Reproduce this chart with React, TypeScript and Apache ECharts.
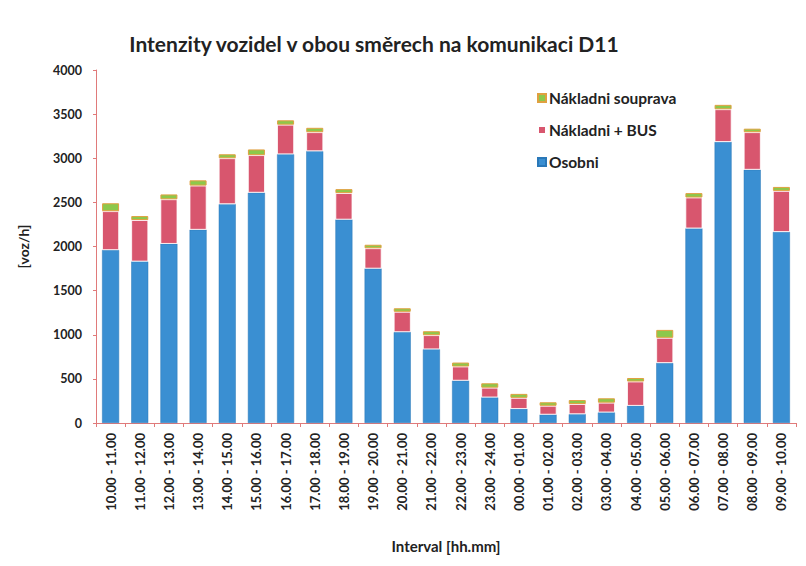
import React, { useEffect, useRef } from "react";
import * as echarts from "echarts";

const categories = [
  "10.00 - 11.00", "11.00 - 12.00", "12.00 - 13.00", "13.00 - 14.00", "14.00 - 15.00",
  "15.00 - 16.00", "16.00 - 17.00", "17.00 - 18.00", "18.00 - 19.00", "19.00 - 20.00",
  "20.00 - 21.00", "21.00 - 22.00", "22.00 - 23.00", "23.00 - 24.00", "00.00 - 01.00",
  "01.00 - 02.00", "02.00 - 03.00", "03.00 - 04.00", "04.00 - 05.00", "05.00 - 06.00",
  "06.00 - 07.00", "07.00 - 08.00", "08.00 - 09.00", "09.00 - 10.00",
];

const osobni = [1960, 1830, 2030, 2190, 2480, 2610, 3045, 3080, 2305, 1750, 1030, 835, 480, 290, 160, 95, 100, 120, 195, 680, 2205, 3185, 2870, 2165];
const nakladniBus = [440, 470, 505, 500, 520, 425, 335, 215, 300, 230, 230, 160, 160, 110, 125, 100, 115, 110, 275, 285, 350, 370, 425, 465];
const souprava = [90, 45, 55, 60, 45, 65, 50, 50, 45, 40, 40, 45, 45, 50, 45, 40, 45, 50, 40, 90, 50, 50, 40, 45];

const yTicks = [0, 500, 1000, 1500, 2000, 2500, 3000, 3500, 4000];

const FONT = "Lato";

export default function App() {
  const ref = useRef<HTMLDivElement>(null);
  useEffect(() => {
    if (!ref.current) return;
    const chart = echarts.init(ref.current, undefined, { renderer: "svg" });
    const axisColor = "#e07a7a";
    chart.setOption({
      animation: false,
      backgroundColor: "#ffffff",
      textStyle: { fontFamily: FONT },
      title: {
        text: "Intenzity vozidel v obou směrech na komunikaci D11",
        left: 361,
        textAlign: "center",
        top: 20,
        textStyle: { fontFamily: FONT, fontSize: 21, fontWeight: "bold", color: "#222" },
      },
      legend: {
        orient: "vertical",
        left: 524,
        top: 77,
        itemWidth: 8,
        itemHeight: 8,
        itemGap: 16,
        icon: "rect",
        data: ["Nákladni souprava", "Nákladni + BUS", "Osobni"],
        textStyle: { fontFamily: FONT, fontSize: 15.5, fontWeight: "bold", color: "#222", padding: [0, 0, 0, -2] },
      },
      grid: { left: 86, right: 10, top: 62, bottom: 128, containLabel: false },
      xAxis: {
        type: "category",
        data: categories,
        name: "Interval [hh.mm]",
        nameLocation: "middle",
        nameGap: 115,
        nameTextStyle: { fontFamily: FONT, fontSize: 15, fontWeight: "bold", color: "#222" },
        axisLine: { lineStyle: { color: axisColor, width: 1 } },
        axisTick: { show: true, length: 4, lineStyle: { color: axisColor } },
        axisLabel: {
          rotate: 90,
          interval: 0,
          margin: 10,
          fontFamily: FONT,
          fontSize: 13,
          fontWeight: "bold",
          color: "#222",
        },
      },
      yAxis: {
        type: "value",
        min: 0,
        max: 4000,
        interval: 500,
        name: "[voz/h]",
        nameLocation: "middle",
        nameGap: 66,
        nameRotate: 90,
        nameTextStyle: { fontFamily: FONT, fontSize: 14, fontWeight: "bold", color: "#222" },
        axisLine: { show: true, lineStyle: { color: axisColor, width: 1 } },
        axisTick: { show: true, length: 3, lineStyle: { color: axisColor } },
        splitLine: { show: false },
        axisLabel: {
          margin: 14,
          fontFamily: FONT,
          fontSize: 12.5,
          fontWeight: "bold",
          color: "#222",
          formatter: (v: number) => (yTicks.includes(v) ? String(v) : ""),
        },
      },
      series: [
        {
          name: "Osobni",
          type: "bar",
          stack: "total",
          barWidth: 17,
          data: osobni,
          itemStyle: { color: "#3a8fd2", borderColor: "#2a78b8", borderWidth: 0.5 },
        },
        {
          name: "Nákladni + BUS",
          type: "bar",
          stack: "total",
          barWidth: 17,
          data: nakladniBus,
          itemStyle: { color: "#d8566e", borderColor: "#ffffff", borderWidth: 0.8 },
        },
        {
          name: "Nákladni souprava",
          type: "bar",
          stack: "total",
          barWidth: 17,
          data: souprava,
          itemStyle: { color: "#8cc84b", borderColor: "#e0a040", borderWidth: 1 },
        },
      ],
    });
    return () => chart.dispose();
  }, []);
  return <div ref={ref} style={{ width: 798, height: 550 }} />;
}
